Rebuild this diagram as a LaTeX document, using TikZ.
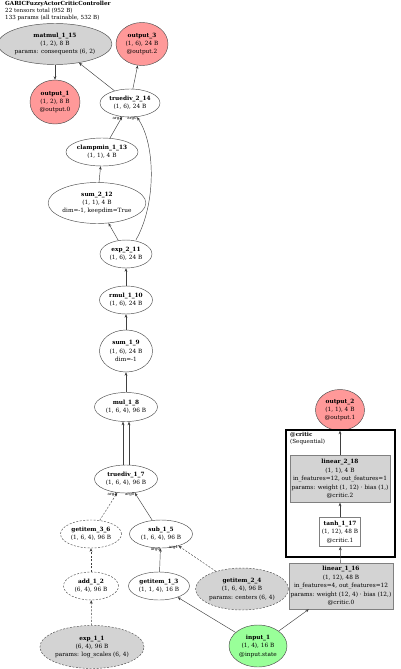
\documentclass[tikz,border=0pt]{standalone}
\usepackage{fontspec}
\setmainfont{DejaVu Serif}
\usetikzlibrary{shapes.geometric,arrows.meta}
\definecolor{outred}{HTML}{FF9999}
\definecolor{ingreen}{HTML}{99FF99}
\definecolor{pargray}{HTML}{D3D3D3}

\begin{document}
\begin{tikzpicture}[x=1pt,y=-1pt,
  every node/.style={font=\fontsize{5.8}{8.4}\selectfont, align=center, inner sep=0pt},
  op/.style={ellipse, draw=black!70, line width=0.45pt},
  skip/.style={dash pattern=on 2pt off 1.5pt},
  param/.style={op, fill=pargray},
  outp/.style={op, fill=outred},
  inp/.style={op, fill=ingreen},
  modbox/.style={rectangle, draw=black!50, line width=0.45pt, inner sep=1.5pt},
  edge/.style={draw=black!75, line width=0.45pt, -{Stealth[length=3.5pt,width=2.8pt]}},
  argl/.style={font=\fontsize{4}{5}\selectfont, anchor=east}]
\useasboundingbox (0,0) rectangle (400,669);

% title
\node[anchor=north west, align=left, font=\fontsize{5.6}{7}\selectfont] (title) at (5,1)
  {\textbf{GARICFuzzyActorCriticController}\\22 tensors total (952 B)\\133 params (all trainable, 532 B)};

% top: outputs
\node[param, minimum width=106, minimum height=41] (matmul115) at (55,44) {\textbf{matmul\_1\_15}\\(1, 2), 8 B\\params: consequents (6, 2)};
\node[outp, minimum width=52, minimum height=43] (output3) at (142,44) {\textbf{output\_3}\\(1, 6), 24 B\\@output.2};
\node[outp, minimum width=50, minimum height=44] (output1) at (55,102) {\textbf{output\_1}\\(1, 2), 8 B\\@output.0};
\node[op, minimum width=60, minimum height=28] (truediv214) at (130,103) {\textbf{truediv\_2\_14}\\(1, 6), 24 B};

% middle: normalisation and firing strengths
\node[op, minimum width=72, minimum height=28] (clampmin113) at (102,152) {\textbf{clampmin\_1\_13}\\(1, 1), 4 B};
\node[op, minimum width=95, minimum height=41] (sum212) at (97,203) {\textbf{sum\_2\_12}\\(1, 1), 4 B\\dim=-1, keepdim=True};
\node[op, minimum width=52, minimum height=28] (exp211) at (126,254) {\textbf{exp\_2\_11}\\(1, 6), 24 B};
\node[op, minimum width=53, minimum height=28] (rmul110) at (126,300) {\textbf{rmul\_1\_10}\\(1, 6), 24 B};
\node[op, minimum width=53, minimum height=42] (sum19) at (126,351) {\textbf{sum\_1\_9}\\(1, 6), 24 B\\dim=-1};
\node[op, minimum width=63, minimum height=29] (mul18) at (126,407) {\textbf{mul\_1\_8}\\(1, 6, 4), 96 B};
\node[op, minimum width=63, minimum height=28] (truediv17) at (126,479) {\textbf{truediv\_1\_7}\\(1, 6, 4), 96 B};

% bottom: memberships
\node[op, skip, minimum width=61, minimum height=28] (getitem36) at (91,534) {\textbf{getitem\_3\_6}\\(1, 6, 4), 96 B};
\node[op, minimum width=63, minimum height=28] (sub15) at (161,534) {\textbf{sub\_1\_5}\\(1, 6, 4), 96 B};
\node[op, skip, minimum width=55, minimum height=28] (add12) at (91,586) {\textbf{add\_1\_2}\\(6, 4), 96 B};
\node[op, minimum width=61, minimum height=28] (getitem13) at (159,586) {\textbf{getitem\_1\_3}\\(1, 1, 4), 16 B};
\node[param, skip, minimum width=100, minimum height=43] (exp11) at (92,647) {\textbf{exp\_1\_1}\\(6, 4), 96 B\\params: log\_scales (6, 4)};
\node[param, skip, minimum width=89, minimum height=42] (getitem24) at (242,589) {\textbf{getitem\_2\_4}\\(1, 6, 4), 96 B\\params: centers (6, 4)};
\node[inp, minimum width=58, minimum height=42] (input1) at (258,646) {\textbf{input\_1}\\(1, 4), 16 B\\@input.state};

% right: critic
\node[outp, minimum width=49, minimum height=41] (output2) at (340,410) {\textbf{output\_2}\\(1, 1), 4 B\\@output.1};
\draw[line width=2.5pt] (286,430) rectangle (395,557);
\node[anchor=north west, align=left, font=\fontsize{5.6}{7}\selectfont] (critic) at (290,432) {\textbf{@critic}\\(Sequential)};
\node[modbox, fill=pargray, minimum width=89, minimum height=47] (linear218) at (340,479) {\textbf{linear\_2\_18}\\(1, 1), 4 B\\in\_features=12, out\_features=1\\params: weight (1, 12) · bias (1,)\\@critic.2};
\node[modbox, fill=white, minimum width=41, minimum height=29] (tanh117) at (340,532) {\textbf{tanh\_1\_17}\\(1, 12), 48 B\\@critic.1};
\node[modbox, fill=pargray, minimum width=92, minimum height=46] (linear116) at (341,586) {\textbf{linear\_1\_16}\\(1, 12), 48 B\\in\_features=4, out\_features=12\\params: weight (12, 4) · bias (12,)\\@critic.0};

% edges
\foreach \a/\b in {matmul115/output1, truediv214/matmul115, truediv214/output3,
                   sum212/clampmin113, exp211/sum212, rmul110/exp211, sum19/rmul110,
                   mul18/sum19, getitem13/sub15, input1/getitem13, input1/linear116,
                   linear116/tanh117, tanh117/linear218, linear218/output2}
  \draw[edge] (\a) -- (\b);
\foreach \a/\b in {exp11/add12, add12/getitem36, getitem24/sub15}
  \draw[edge, skip] (\a) -- (\b);
\draw[edge] ([xshift=-3]truediv17.north) -- ([xshift=-3]mul18.south);
\draw[edge] ([xshift=3]truediv17.north) -- ([xshift=3]mul18.south);

% argument labels
\draw[edge] (clampmin113) -- (truediv214) node[argl, at end, yshift=-1.5] {arg1};
\draw[edge] ([xshift=10]exp211.north) .. controls (156,205) and (156,145) .. ([xshift=7]truediv214.south)
  node[argl, at end, yshift=-1.5] {arg0};
\draw[edge, skip] (getitem36) -- (truediv17) node[argl, at end, yshift=-1.5] {arg1};
\draw[edge] (sub15) -- (truediv17) node[argl, at end, yshift=-1.5] {arg0};
\path (getitem13) -- (sub15) node[argl, at end, yshift=-1.5] {arg0};
\path (getitem24) -- (sub15) node[argl, at end, yshift=-1.5] {arg1};
\end{tikzpicture}
\end{document}
